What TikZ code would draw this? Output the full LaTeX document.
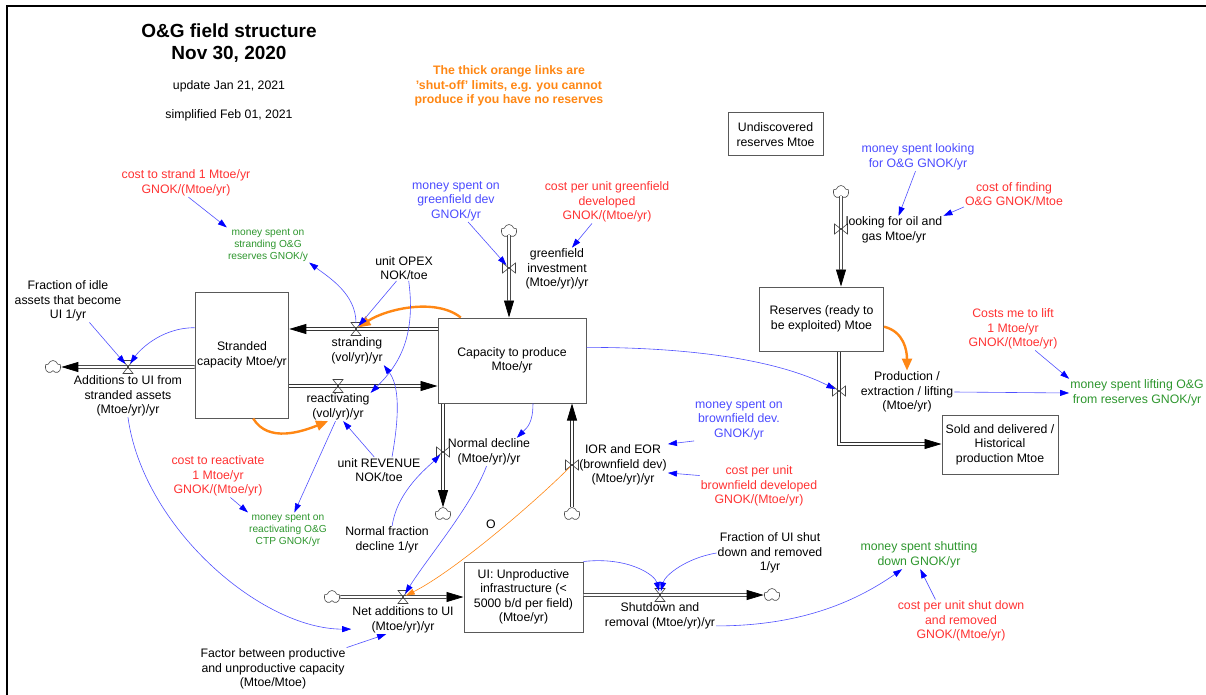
\documentclass[tikz,border=0pt]{standalone}
\usepackage{fontspec}
\setmainfont{Liberation Sans}
\usetikzlibrary{arrows.meta, shapes.symbols}

\definecolor{vred}{RGB}{255,50,50}
\definecolor{vblue}{RGB}{75,75,255}
\definecolor{vgreen}{RGB}{45,150,45}
\definecolor{vorange}{RGB}{255,135,20}
\definecolor{linkblue}{RGB}{80,80,255}

\newcommand{\txtn}{\fontsize{12.3}{14.5}\selectfont}
\newcommand{\txtg}{\fontsize{10.2}{12}\selectfont}

\tikzset{
  stock/.style={draw=black!65, line width=1pt, align=center, inner sep=2pt, font=\txtn},
  aux/.style={align=center, inner sep=1pt, font=\txtn},
  pipe/.style={draw=black!80, line width=0.7pt, double=white, double distance=2.4pt},
  pipeto/.style={pipe, -{Triangle[length=17pt,width=10pt,color=black]}},
  valve/.style={draw=black!75, line width=0.6pt},
  cloudnode/.style={cloud, cloud puffs=5, cloud ignores aspect, draw=black!70, line width=0.6pt, inner sep=0, minimum width=16pt, minimum height=13pt},
  link/.style={draw=linkblue, line width=0.6pt, -{Triangle[length=9pt,width=6pt,color=blue]}},
  shut/.style={draw=vorange, line width=2.4pt, -{Triangle[length=12pt,width=10pt]}},
  thinshut/.style={draw=vorange, line width=0.6pt, -{Triangle[length=9pt,width=6pt]}},
}

\begin{document}
\begin{tikzpicture}[x=1pt,y=-1pt]
\useasboundingbox (0,0) rectangle (1206,695);
% Frame
\draw[line width=2.5pt] (7,700) -- (7,6) -- (1210,6);

% Title and notes
\node[align=center, font=\fontsize{19}{22}\selectfont\bfseries] (title) at (229,43) {O\&G field structure\\Nov 30, 2020};
\node[aux] (upd) at (229,86) {update Jan 21, 2021};
\node[aux] (simp) at (229,115) {simplified Feb 01, 2021};
\node[aux, text=vorange, font=\txtn\bfseries] (note) at (509,86) {The thick orange links are\\'shut-off' limits, e.g. you cannot\\produce if you have no reserves};

% Stocks
\node[stock, minimum width=93pt, minimum height=126pt] (stranded) at (242,355) {Stranded\\capacity Mtoe/yr};
\node[stock, minimum width=148pt, minimum height=85pt] (capacity) at (512,360.5) {Capacity to produce\\Mtoe/yr};
\node[stock, minimum width=124pt, minimum height=64pt] (reserves) at (821.5,319) {Reserves (ready to\\be exploited) Mtoe};
\node[stock, minimum width=95pt, minimum height=43pt] (undisc) at (775.5,134.5) {Undiscovered\\reserves Mtoe};
\node[stock, minimum width=116pt, minimum height=59pt] (sold) at (1000,444.5) {Sold and delivered /\\Historical\\production Mtoe};
\node[stock, minimum width=119pt, minimum height=70pt] (ui) at (523.5,597) {UI: Unproductive\\infrastructure (<\\5000 b/d per field)\\(Mtoe/yr)};

% Clouds
\node[cloudnode] (cgf) at (509,231) {};
\node[cloudnode] (caddui) at (53,367) {};
\node[cloudnode] (cdecl) at (443,514) {};
\node[cloudnode] (cior) at (572,514) {};
\node[cloudnode] (clook) at (841,192) {};
\node[cloudnode] (cnet) at (332,597) {};
\node[cloudnode] (cshut) at (772,595) {};

% Valve positions
\coordinate (vgf) at (509,268);
\coordinate (vstr) at (356,329);
\coordinate (vreact) at (338,386);
\coordinate (vadd) at (128,367);
\coordinate (vdecl) at (443,452);
\coordinate (vior) at (572,465);
\coordinate (vprod) at (839,391);
\coordinate (vlook) at (841,229);
\coordinate (vnet) at (403,597);
\coordinate (vshut) at (660,595);
\coordinate (prodbend) at (839,444);

% Flows
\draw[pipeto] (cgf) -- (vgf |- capacity.north);
\draw[pipeto] (capacity.west |- vstr) -- (stranded.east |- vstr);
\draw[pipeto] (stranded.east |- vreact) -- (capacity.west |- vreact);
\draw[pipeto] (stranded.west |- vadd) -- (caddui);
\draw[pipeto] (vdecl |- capacity.south) -- (cdecl);
\draw[pipeto] (cior) -- (vior |- capacity.south);
\draw[pipeto] (clook) -- (vlook |- reserves.north);
\draw[pipeto] (vprod |- reserves.south) -- (prodbend) -- (sold.west |- prodbend);
\draw[pipeto] (cnet) -- (ui.west |- vnet);
\draw[pipeto] (ui.east |- vshut) -- (cshut);

% Valves
\foreach \v in {vstr, vreact, vadd, vnet, vshut}
  \draw[valve] ([shift={(-5,-6.5)}]\v) -- ([shift={(5,-6.5)}]\v) -- ([shift={(-5,6.5)}]\v) -- ([shift={(5,6.5)}]\v) -- cycle;
\foreach \v in {vgf, vdecl, vior, vprod, vlook}
  \draw[valve] ([shift={(-6.5,-5)}]\v) -- ([shift={(-6.5,5)}]\v) -- ([shift={(6.5,-5)}]\v) -- ([shift={(6.5,5)}]\v) -- cycle;

% Flow names
\node[aux] (lgf) at (557,269) {greenfield\\investment\\(Mtoe/yr)/yr};
\node[aux] (lstr) at (357,351) {stranding\\(vol/yr)/yr};
\node[aux] (lreact) at (338,407) {reactivating\\(vol/yr)/yr};
\node[aux] (ladd) at (128,396) {Additions to UI from\\stranded assets\\(Mtoe/yr)/yr};
\node[aux] (ldecl) at (489,452) {Normal decline\\(Mtoe/yr)/yr};
\node[aux] (lior) at (623,465) {IOR and EOR\\(brownfield dev)\\(Mtoe/yr)/yr};
\node[aux] (lprod) at (907,392) {Production /\\extraction / lifting\\(Mtoe/yr)};
\node[aux] (llook) at (894,230) {looking for oil and\\gas Mtoe/yr};
\node[aux] (lnet) at (403,620) {Net additions to UI\\(Mtoe/yr)/yr};
\node[aux] (lshut) at (660,616) {Shutdown and\\removal (Mtoe/yr)/yr};

% Auxiliaries
\node[aux] (fridle) at (68,301) {Fraction of idle\\assets that become\\UI 1/yr};
\node[aux, text=vred] (coststrand) at (186,183) {cost to strand 1 Mtoe/yr\\GNOK/(Mtoe/yr)};
\node[aux, text=vgreen, font=\txtg] (mstrand) at (268,245) {money spent on\\stranding O\&G\\reserves GNOK/y};
\node[aux] (opex) at (404,268) {unit OPEX\\NOK/toe};
\node[aux, text=vblue] (mgf) at (456,201) {money spent on\\greenfield dev\\GNOK/yr};
\node[aux, text=vred] (costgf) at (607,202) {cost per unit greenfield\\developed\\GNOK/(Mtoe/yr)};
\node[aux, text=vblue] (mlook) at (918,157) {money spent looking\\for O\&G GNOK/yr};
\node[aux, text=vred] (costfind) at (1014,194) {cost of finding\\O\&G GNOK/Mtoe};
\node[aux, text=vred] (costlift) at (1013,329) {Costs me to lift\\1 Mtoe/yr\\GNOK/(Mtoe/yr)};
\node[aux, text=vgreen] (mlift) at (1137,393) {money spent lifting O\&G\\from reserves GNOK/yr};
\node[aux, text=vblue] (mbrown) at (739,420) {money spent on\\brownfield dev.\\GNOK/yr};
\node[aux, text=vred] (costbrown) at (759,486) {cost per unit\\brownfield developed\\GNOK/(Mtoe/yr)};
\node[aux] (revenue) at (379,470) {unit REVENUE\\NOK/toe};
\node[aux, text=vred] (costreact) at (218,476) {cost to reactivate\\1 Mtoe/yr\\GNOK/(Mtoe/yr)};
\node[aux, text=vgreen, font=\txtg] (mreact) at (288,530) {money spent on\\reactivating O\&G\\CTP GNOK/yr};
\node[aux] (normfrac) at (387,540) {Normal fraction\\decline 1/yr};
\node[aux] (oflag) at (491,524) {O};
\node[aux] (factor) at (273,669) {Factor between productive\\and unproductive capacity\\(Mtoe/Mtoe)};
\node[aux] (frshut) at (770,553) {Fraction of UI shut\\down and removed\\1/yr};
\node[aux, text=vgreen] (mshut) at (919,555) {money spent shutting\\down GNOK/yr};
\node[aux, text=vred] (costshut) at (961,621) {cost per unit shut down\\and removed\\GNOK/(Mtoe/yr)};

% Shut-off links
\draw[shut] (stranded.-80) .. controls +(15,25) and +(-25,10) .. (lreact.-125);
\draw[shut, shorten >=3pt] (capacity.140) .. controls +(-25,-20) and +(30,-20) .. (vstr);
\draw[shut] (reserves.-7) .. controls +(20,5) and +(0,-20) .. (lprod.north);
\draw[thinshut, shorten <=3pt, shorten >=3pt] (vior) .. controls +(-40,40) and +(50,-25) .. (vnet);

% Links
\draw[link] (coststrand.-80) -- (mstrand.north west);
\draw[link, shorten <=6pt] (vstr) .. controls +(0,-35) and +(20,15) .. (mstrand.south east);
\draw[link, shorten >=4pt] (opex.-120) -- (vstr);
\draw[link] (opex.-70) .. controls +(8,60) and +(25,-25) .. (lreact.north east);
\draw[link] ([xshift=13pt]revenue.north) .. controls +(8,-45) and +(15,20) .. (lstr.south east);
\draw[link] (revenue.110) -- (lreact.-70);
\draw[link] (lreact.-100) -- (mreact.70);
\draw[link] (costreact.-60) -- (mreact.north west);
\draw[link, shorten >=4pt] (stranded.150) .. controls +(-35,0) and +(10,-15) .. (vadd);
\draw[link, shorten >=4pt] (fridle.-45) -- (vadd);
\draw[link] (ladd.south) .. controls +(15,110) and +(-90,0) .. (lnet.190);
\draw[link] (factor.north east) -- (lnet.-140);
\draw[link, shorten >=4pt] (ldecl.-100) .. controls +(-15,40) and +(25,-40) .. (vnet);
\draw[link] (capacity.-64) .. controls +(0,20) and +(10,-10) .. (ldecl.27);
\draw[link, shorten >=4pt] (normfrac.70) .. controls +(5,-35) and +(-15,15) .. (vdecl);
\draw[link, shorten >=4pt] (mgf.-60) -- (vgf);
\draw[link] (costgf.-125) -- (lgf.55);
\draw[link] (mlook.-100) -- (llook.72);
\draw[link] (costfind.south west) -- (llook.north east);
\draw[link, shorten >=4pt] (capacity.10) .. controls +(110,0) and +(-60,-30) .. (vprod);
\draw[link] (lprod.east) -- (mlift.west);
\draw[link] (costlift.-44) -- (mlift.north west);
\draw[link] (mbrown.south west) -- (lior.25);
\draw[link] (costbrown.170) -- (lior.-10);
\draw[link, shorten >=4pt] (ui.north east) .. controls +(45,-5) and +(-5,-20) .. (vshut);
\draw[link, shorten >=4pt] (frshut.west) .. controls +(-30,5) and +(5,-20) .. (vshut);
\draw[link] (lshut.-10) .. controls +(80,0) and +(-50,35) .. (mshut.-140);
\draw[link] (costshut.140) -- (mshut.-85);
\end{tikzpicture}
\end{document}
